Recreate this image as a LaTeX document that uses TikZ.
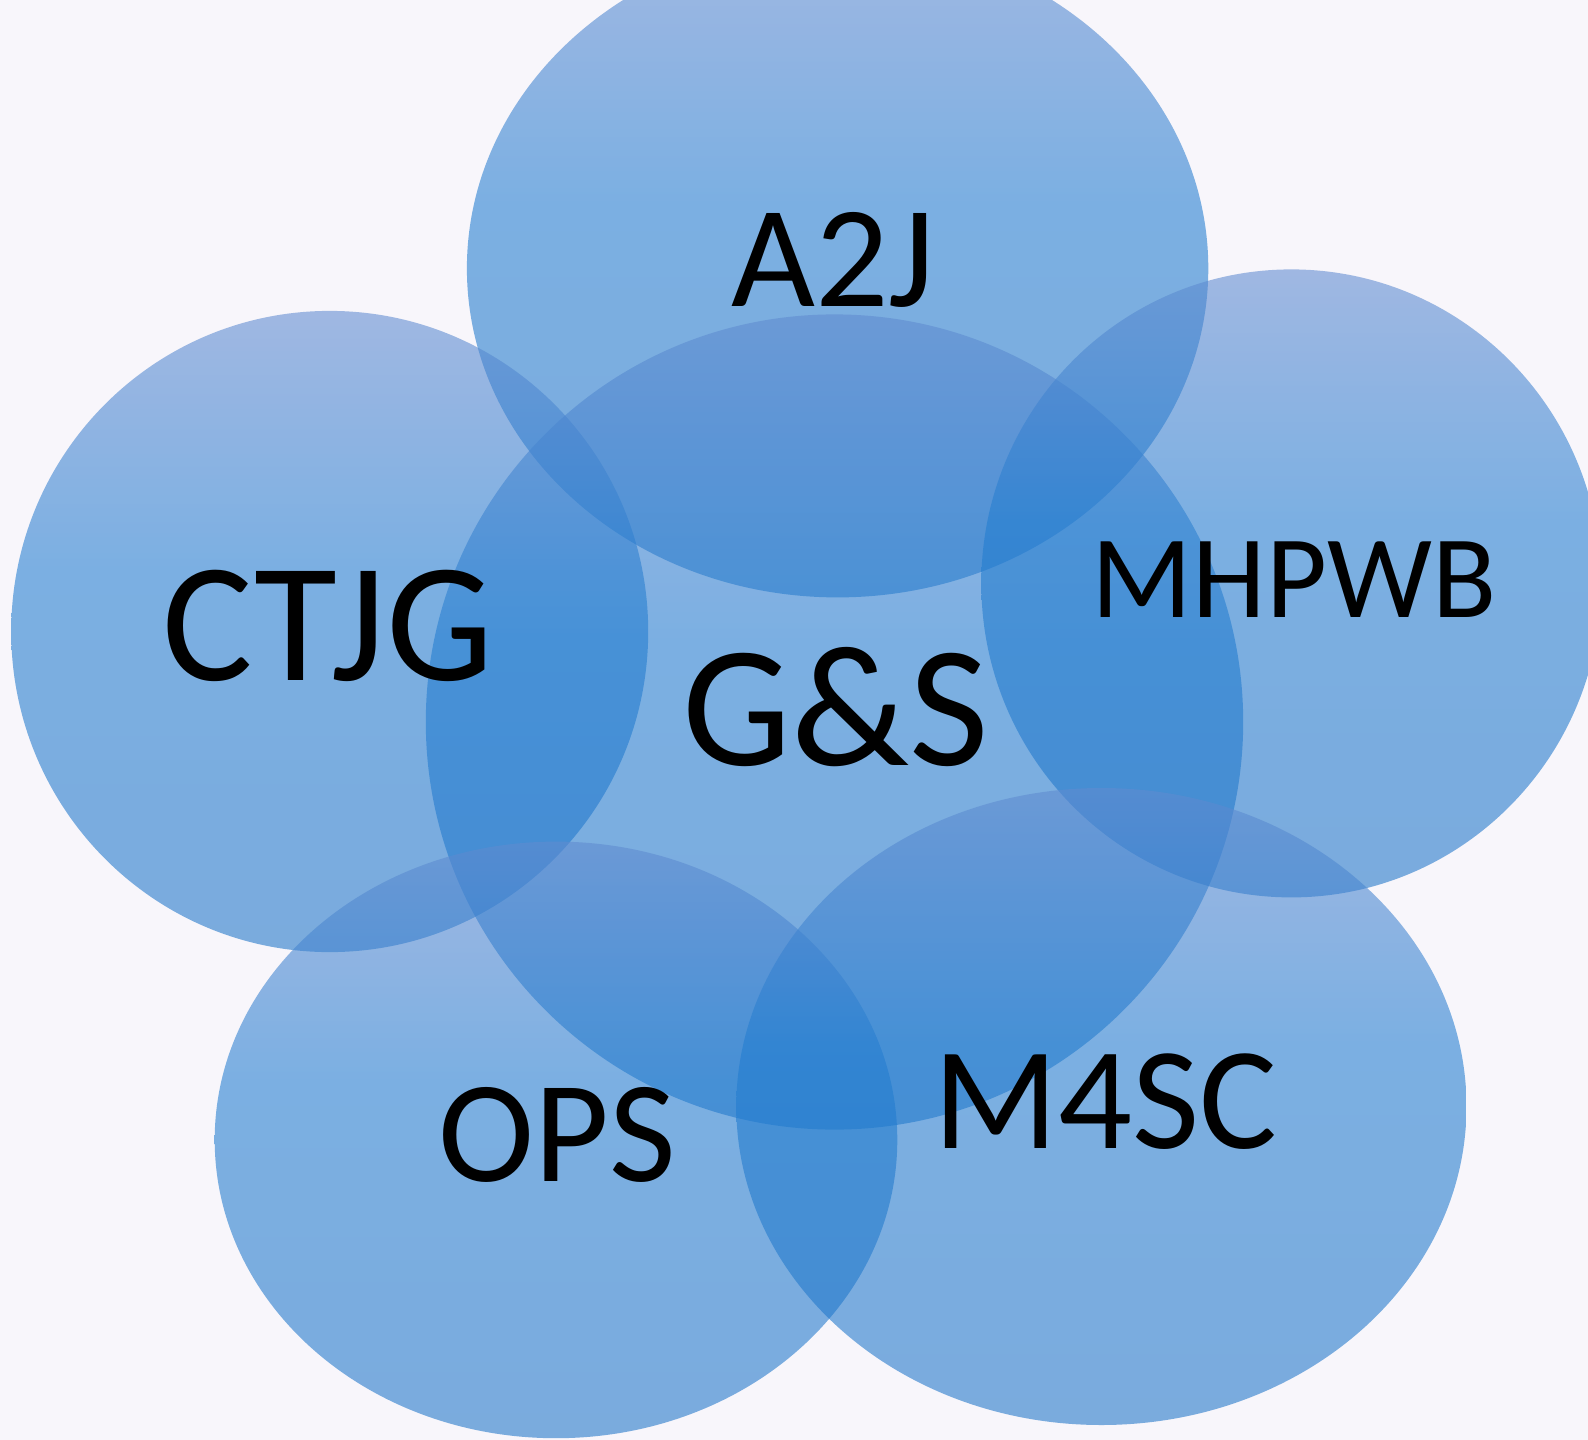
\documentclass[tikz,border=0pt]{standalone}
\usepackage{fontspec}
\setmainfont{Carlito}
\definecolor{bgc}{RGB}{248,246,251}
\definecolor{ctop}{RGB}{96,139,208}
\definecolor{cmid}{RGB}{34,125,208}
\definecolor{cbot}{RGB}{31,117,201}
\pgfdeclareverticalshading{blobshade}{100bp}{color(0bp)=(cbot); color(25bp)=(cbot); color(55bp)=(cmid); color(75bp)=(ctop); color(100bp)=(ctop)}
\tikzset{
  blob/.style={shading=blobshade, fill opacity=0.58, draw=none},
  lbl/.style={anchor=base, inner sep=0pt, text=black}
}
\begin{document}
\begin{tikzpicture}[x=1pt,y=-1pt]
\fill[bgc] (0,0) rectangle (1588,1440);
\useasboundingbox (0,0) rectangle (1588,1440);
\begin{scope}
\clip (0,0) rectangle (1588,1440);
\shade[blob] (837.6,268.4) ellipse [x radius=370.7pt, y radius=329pt];
\shade[blob] (329.7,631.5) ellipse [x radius=318.5pt, y radius=320.6pt];
\shade[blob] (834.5,722) ellipse [x radius=408.7pt, y radius=407.6pt];
\shade[blob] (1291.3,583.4) ellipse [x radius=310pt, y radius=314pt];
\shade[blob] (556,1139.9) ellipse [x radius=341.3pt, y radius=298.3pt];
\shade[blob] (1101.4,1106.5) ellipse [x radius=365.1pt, y radius=318.5pt];
\end{scope}
\node[lbl, font=\fontsize{145}{150}\selectfont] (a2j) at (833,306.9) {A2J};
\node[lbl, font=\fontsize{170}{180}\selectfont] (ctjg) at (328,680.6) {CTJG};
\node[lbl, font=\fontsize{173}{180}\selectfont] (gs) at (835.6,765) {G\&S};
\node[lbl, font=\fontsize{118}{120}\selectfont] (mhpwb) at (1294,617.8) {MHPWB};
\node[lbl, font=\fontsize{146}{150}\selectfont] (m4sc) at (1105.5,1148.5) {M4SC};
\node[lbl, font=\fontsize{145}{150}\selectfont] (ops) at (557,1181.5) {OPS};
\end{tikzpicture}
\end{document}
